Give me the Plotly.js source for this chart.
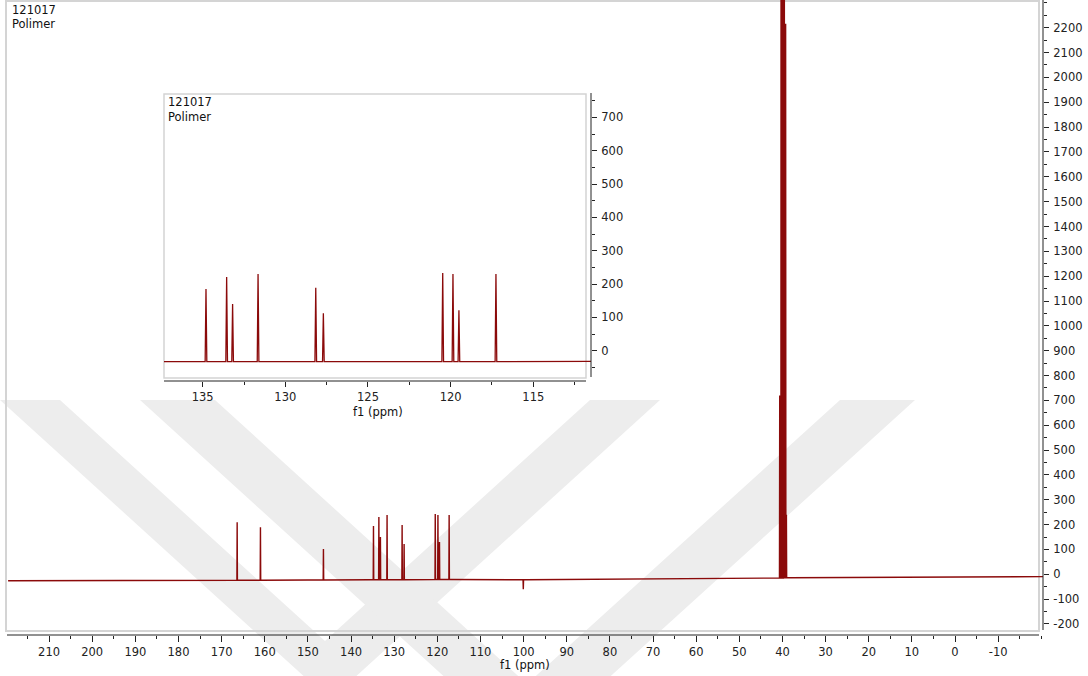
<!DOCTYPE html>
<html><head><meta charset="utf-8">
<script src="https://cdn.plot.ly/plotly-3.0.1.min.js"></script>
<style>html,body{margin:0;padding:0;background:#fff;overflow:hidden}#chart{width:1088px;height:676px}</style>
</head><body><div id="chart"></div>
<script>
// ---------- data ----------
const sampleLines = ["121017", "Polimer"];
const axisTitle = "f1 (ppm)";

// main spectrum: baseline anchor points (ppm, intensity)
const mainBasePpm = [219.5, 200, 180, 166.8, 150, 135.5, 117, 100.6, 99.5, 80, 60, 41.3, 38.5, 20, 0, -20.4];
const mainBaseVal = [-26, -25.5, -25, -24, -23, -22, -21, -22, -22, -20, -18, -15, -14, -12, -10.5, -9.5];
// main spectrum peaks
const mainPeakPpm  = [166.4, 161.0, 146.4, 134.8, 133.55, 133.19, 131.65, 128.16, 127.7, 120.48, 119.86, 119.5, 117.26, 100.07, 40.63, 40.30, 40.05, 39.80, 39.58, 39.26, 39.08];
const mainPeakTop  = [210, 189, 102, 194, 231, 150, 239, 198, 122, 243, 239, 130, 239, -60, 720, 4000, 6000, 6000, 4000, 2216, 240];
const mainPeakBase = [-24, -24, -23, -22, -22, -22, -22, -22, -22, -21, -21, -21, -21, -22, -15, -15, -15, -15, -14, -14, -14];

// inset (aromatic region expansion)
const insetBasePpm = [137.34, 111.51];
const insetBaseVal = [-33, -32];
const insetPeakPpm  = [134.8, 133.55, 133.19, 131.65, 128.16, 127.7, 120.48, 119.86, 119.5, 117.26];
const insetPeakTop  = [185, 221, 140, 230, 189, 112, 233, 230, 121, 230];
const insetPeakBase = [-33, -33, -33, -33, -33, -33, -33, -33, -33, -33];

// tick labels
const mainXTicks = [210, 200, 190, 180, 170, 160, 150, 140, 130, 120, 110, 100, 90, 80, 70, 60, 50, 40, 30, 20, 10, 0, -10];
const mainYTicks = [-200, -100, 0, 100, 200, 300, 400, 500, 600, 700, 800, 900, 1000, 1100, 1200, 1300, 1400, 1500, 1600, 1700, 1800, 1900, 2000, 2100, 2200];
const insetXTicks = [135, 130, 125, 120, 115];
const insetYTicks = [0, 100, 200, 300, 400, 500, 600, 700];

// ---------- build line vertices from the peak lists ----------
function buildSpectrum(bp, bv, pp, pt, pb, hw) {
  const pts = [];
  for (let i = 0; i < bp.length; i++) pts.push([bp[i], bv[i]]);
  for (let i = 0; i < pp.length; i++) {
    pts.push([pp[i] + hw, pb[i]]);
    pts.push([pp[i], pt[i]]);
    pts.push([pp[i] - hw, pb[i]]);
  }
  pts.sort((a, b) => b[0] - a[0]);
  return {x: pts.map(p => p[0]), y: pts.map(p => p[1])};
}
const mainSpec = buildSpectrum(mainBasePpm, mainBaseVal, mainPeakPpm, mainPeakTop, mainPeakBase, 0.06);
const insetSpec = buildSpectrum(insetBasePpm, insetBaseVal, insetPeakPpm, insetPeakTop, insetPeakBase, 0.05);

// ---------- layout geometry (pixels) ----------
const W = 1088, H = 676;
const mL = 8, mR = 45, mT = 0, mB = 41;
const PW = W - mL - mR, PH = H - mT - mB;
const px = x => (x - mL) / PW;
const py = y => (H - mB - y) / PH;
function path(pts) { return 'M' + pts.map(p => px(p[0]) + ',' + py(p[1])).join('L') + 'Z'; }
function line(x0, y0, x1, y1, color, w) {
  return {type: 'line', xref: 'paper', yref: 'paper', x0: px(x0), y0: py(y0), x1: px(x1), y1: py(y1), line: {color: color, width: w}, layer: 'above'};
}
function rect(x0, y0, x1, y1, color, w) {
  return {type: 'rect', xref: 'paper', yref: 'paper', x0: px(x0), y0: py(y0), x1: px(x1), y1: py(y1), line: {color: color, width: w}, layer: 'below'};
}
const wm = 'rgb(237,237,237)';
function band(pts) { return {type: 'path', xref: 'paper', yref: 'paper', path: path(pts), fillcolor: wm, line: {width: 0}, layer: 'below'}; }

// background watermark: two chevrons
const shapes = [
  band([[0,400],[60,400],[325,641],[590,400],[660,400],[330,700]]),
  band([[140,400],[215,400],[527,684],[840,400],[915,400],[527,752]]),
  rect(6, 1, 1039, 631, '#d4d4d4', 2),
  line(7, 635, 1039, 635, '#222', 1),
  line(1043, 0, 1043, 630, '#222', 1),
  rect(164, 94, 586, 378, '#d4d4d4', 1.5),
  line(164, 381, 586, 381, '#222', 1),
  line(591, 93, 591, 377, '#222', 1)
];

const FONT = 'DejaVu Sans, Verdana, sans-serif';
const tickFont = {family: FONT, size: 11.5, color: '#222'};
function ann(x, y, text, anchorX) {
  return {xref: 'paper', yref: 'paper', x: px(x), y: py(y), text: text, showarrow: false,
          xanchor: anchorX || 'left', yanchor: 'middle', font: {family: FONT, size: 11.5, color: '#111'}};
}
const annotations = [
  ann(10, 10, sampleLines[0]), ann(10, 24, sampleLines[1]),
  ann(166, 102, sampleLines[0]), ann(166, 117, sampleLines[1]),
  ann(525, 664.5, axisTitle, 'center'),
  ann(377.5, 411.5, axisTitle, 'center')
];

const lineColor = '#8b0a0a';
const traces = [
  {x: mainSpec.x, y: mainSpec.y, type: 'scatter', mode: 'lines', line: {color: lineColor, width: 1.4}, xaxis: 'x', yaxis: 'y', hoverinfo: 'skip'},
  {x: insetSpec.x, y: insetSpec.y, type: 'scatter', mode: 'lines', line: {color: lineColor, width: 1.3}, xaxis: 'x2', yaxis: 'y2', hoverinfo: 'skip'}
];

const layout = {
  width: W, height: H,
  margin: {l: mL, r: mR, t: mT, b: mB, pad: 0},
  paper_bgcolor: '#fff', plot_bgcolor: 'rgba(0,0,0,0)',
  showlegend: false,
  xaxis: {
    range: [219.52, -20.4], autorange: false, showgrid: false, zeroline: false, showline: false,
    tickmode: 'array', tickvals: mainXTicks, ticktext: mainXTicks.map(String),
    ticks: 'outside', ticklen: 6, tickwidth: 1, tickcolor: '#222', tickfont: tickFont, ticklabelstandoff: 0,
    minor: {tickmode: 'linear', tick0: 0, dtick: 5, ticks: 'outside', ticklen: 3, tickwidth: 1, tickcolor: '#222', showgrid: false}
  },
  yaxis: {
    range: [-244.3, 2311.5], autorange: false, side: 'right', showgrid: false, zeroline: false, showline: false,
    tickmode: 'array', tickvals: mainYTicks, ticktext: mainYTicks.map(String),
    ticks: 'outside', ticklen: 5, tickwidth: 1, tickcolor: '#222', tickfont: tickFont, ticklabelstandoff: 2,
    minor: {tickmode: 'linear', tick0: 0, dtick: 50, ticks: 'outside', ticklen: 2.5, tickwidth: 1, tickcolor: '#222', showgrid: false}
  },
  xaxis2: {
    domain: [px(164), px(591)], anchor: 'y2',
    range: [137.34, 111.51], autorange: false, showgrid: false, zeroline: false, showline: false,
    tickmode: 'array', tickvals: insetXTicks, ticktext: insetXTicks.map(String),
    ticks: 'outside', ticklen: 5, tickwidth: 1, tickcolor: '#222', tickfont: tickFont, ticklabelstandoff: 0,
    minor: {tickmode: 'linear', tick0: 0, dtick: 2.5, ticks: 'outside', ticklen: 3, tickwidth: 1, tickcolor: '#222', showgrid: false}
  },
  yaxis2: {
    domain: [py(381), py(94)], anchor: 'x2', side: 'right',
    range: [-91, 770], autorange: false, showgrid: false, zeroline: false, showline: false,
    tickmode: 'array', tickvals: insetYTicks, ticktext: insetYTicks.map(String),
    ticks: 'outside', ticklen: 5, tickwidth: 1, tickcolor: '#222', tickfont: tickFont, ticklabelstandoff: 2,
    minor: {tickmode: 'linear', tick0: 0, dtick: 50, ticks: 'outside', ticklen: 3, tickwidth: 1, tickcolor: '#222', showgrid: false}
  },
  shapes: shapes,
  annotations: annotations
};

Plotly.newPlot('chart', traces, layout, {staticPlot: true, displayModeBar: false});
</script></body></html>
